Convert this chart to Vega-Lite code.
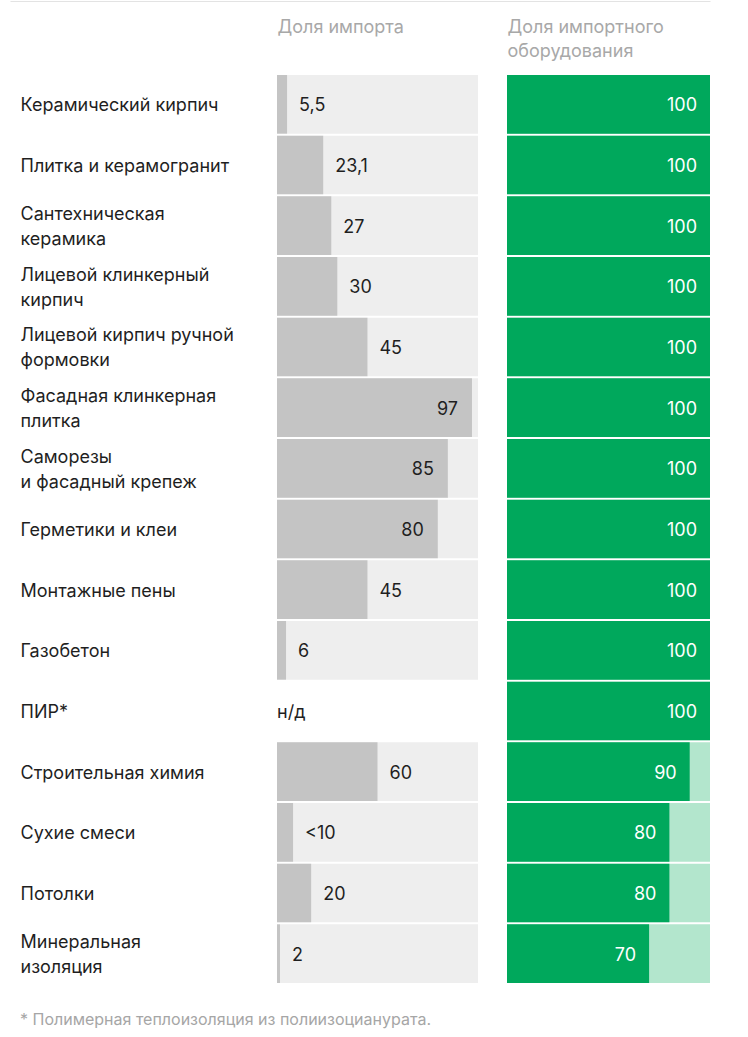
{
  "$schema": "https://vega.github.io/schema/vega-lite/v6.json",
  "width": 748,
  "height": 1037,
  "autosize": {"type": "none"},
  "padding": 0,
  "background": "#ffffff",
  "config": {
    "view": {"stroke": null},
    "font": "Inter",
    "text": {"font": "Inter", "fontSize": 18}
  },
  "title": {
    "text": "* Полимерная теплоизоляция из полиизоцианурата.",
    "orient": "bottom",
    "anchor": "start",
    "frame": "group",
    "offset": -25,
    "dx": 20,
    "fontSize": 16,
    "fontWeight": "normal",
    "color": "#a6a6a6",
    "font": "Inter"
  },
  "data": {
    "values": [
      {"name": "Керамический кирпич", "bar": 5, "impLabel": "5,5", "equip": 100},
      {"name": "Плитка и керамогранит", "bar": 23, "impLabel": "23,1", "equip": 100},
      {"name": "Сантехническая\nкерамика", "bar": 27, "impLabel": "27", "equip": 100},
      {"name": "Лицевой клинкерный\nкирпич", "bar": 30, "impLabel": "30", "equip": 100},
      {"name": "Лицевой кирпич ручной\nформовки", "bar": 45, "impLabel": "45", "equip": 100},
      {"name": "Фасадная клинкерная\nплитка", "bar": 97, "impLabel": "97", "equip": 100},
      {"name": "Саморезы\nи фасадный крепеж", "bar": 85, "impLabel": "85", "equip": 100},
      {"name": "Герметики и клеи", "bar": 80, "impLabel": "80", "equip": 100},
      {"name": "Монтажные пены", "bar": 45, "impLabel": "45", "equip": 100},
      {"name": "Газобетон", "bar": 4.5, "impLabel": "6", "equip": 100},
      {"name": "ПИР*", "bar": null, "impLabel": "н/д", "equip": 100},
      {"name": "Строительная химия", "bar": 50, "impLabel": "60", "equip": 90},
      {"name": "Сухие смеси", "bar": 8, "impLabel": "<10", "equip": 80},
      {"name": "Потолки", "bar": 17, "impLabel": "20", "equip": 80},
      {"name": "Минеральная\nизоляция", "bar": 1.5, "impLabel": "2", "equip": 70}
    ]
  },
  "encoding": {
    "y": {
      "field": "name",
      "type": "nominal",
      "sort": null,
      "scale": {"range": [75, 983], "paddingInner": 0.033, "paddingOuter": 0},
      "axis": {
        "orient": "left",
        "domain": false,
        "ticks": false,
        "tickSize": 0,
        "grid": false,
        "title": null,
        "labelAlign": "left",
        "labelBaseline": "middle",
        "labelPadding": -20,
        "labelOffset": {"condition": {"test": "indexof(datum.value, '\\n') >= 0", "value": -10.5}, "value": 2},
        "labelFont": "Inter",
        "labelFontSize": 18,
        "labelColor": "#1f1f1f",
        "labelLineHeight": 25,
        "labelLimit": 0,
        "labelOverlap": false,
        "labelBound": false,
        "labelExpr": "split(datum.value, '\\n')"
      }
    }
  },
  "layer": [
    {
      "layer": [
        {
          "mark": {"type": "bar", "color": "#b3e6cd"},
          "encoding": {
            "x": {
              "datum": 100,
              "type": "quantitative",
              "scale": {"domain": [0, 100], "range": [507, 710], "nice": false, "zero": true},
              "axis": {
                "orient": "top",
                "offset": -75,
                "domain": false,
                "ticks": false,
                "labels": false,
                "grid": false,
                "title": ["Доля импортного", "оборудования"],
                "titleAnchor": "start",
                "titleAlign": "left",
                "titleBaseline": "alphabetic",
                "titlePadding": 19,
                "titleLineHeight": 24,
                "titleFont": "Inter",
                "titleFontSize": 18,
                "titleFontWeight": "normal",
                "titleColor": "#a8a8a8"
              }
            }
          }
        },
        {
          "mark": {"type": "bar", "color": "#00a85c"},
          "encoding": {"x": {"field": "equip", "type": "quantitative"}}
        },
        {
          "mark": {"type": "text", "align": "right", "baseline": "middle", "dx": -13, "dy": 2, "color": "#ffffff", "fontSize": 18},
          "encoding": {
            "x": {"field": "equip", "type": "quantitative"},
            "text": {"field": "equip"}
          }
        }
      ]
    },
    {
      "layer": [
        {
          "transform": [{"filter": "isValid(datum.bar)"}],
          "mark": {"type": "bar", "color": "#eeeeee"},
          "encoding": {
            "x": {
              "datum": 100,
              "type": "quantitative",
              "scale": {"domain": [0, 100], "range": [277, 478], "nice": false, "zero": true},
              "axis": {
                "orient": "top",
                "offset": -75,
                "domain": false,
                "ticks": false,
                "labels": false,
                "grid": false,
                "title": "Доля импорта",
                "titleAnchor": "start",
                "titleAlign": "left",
                "titleBaseline": "alphabetic",
                "titlePadding": 43,
                "titleFont": "Inter",
                "titleFontSize": 18,
                "titleFontWeight": "normal",
                "titleColor": "#a8a8a8"
              }
            }
          }
        },
        {
          "transform": [{"filter": "isValid(datum.bar)"}],
          "mark": {"type": "bar", "color": "#c4c4c4"},
          "encoding": {"x": {"field": "bar", "type": "quantitative"}}
        },
        {
          "transform": [{"filter": "isValid(datum.bar) && datum.bar < 70"}],
          "mark": {"type": "text", "align": "left", "baseline": "middle", "dx": 12, "dy": 2, "color": "#1f1f1f", "fontSize": 18},
          "encoding": {
            "x": {"field": "bar", "type": "quantitative"},
            "text": {"field": "impLabel"}
          }
        },
        {
          "transform": [{"filter": "isValid(datum.bar) && datum.bar >= 70"}],
          "mark": {"type": "text", "align": "right", "baseline": "middle", "dx": -14, "dy": 2, "color": "#1f1f1f", "fontSize": 18},
          "encoding": {
            "x": {"field": "bar", "type": "quantitative"},
            "text": {"field": "impLabel"}
          }
        },
        {
          "transform": [{"filter": "!isValid(datum.bar)"}],
          "mark": {"type": "text", "align": "left", "baseline": "middle", "dy": 2, "color": "#1f1f1f", "fontSize": 18},
          "encoding": {
            "x": {"datum": 0, "type": "quantitative"},
            "text": {"field": "impLabel"}
          }
        }
      ]
    },
    {
      "mark": {"type": "text", "text": ""},
      "encoding": {
        "x": {
          "datum": 0,
          "type": "quantitative",
          "scale": {"domain": [0, 1], "range": [10, 710], "nice": false},
          "axis": {
            "orient": "top",
            "offset": -1,
            "domain": true,
            "domainColor": "#e3e3e3",
            "domainWidth": 1,
            "ticks": false,
            "labels": false,
            "grid": false,
            "title": null
          }
        }
      }
    }
  ],
  "resolve": {"scale": {"x": "independent"}, "axis": {"x": "independent"}}
}
